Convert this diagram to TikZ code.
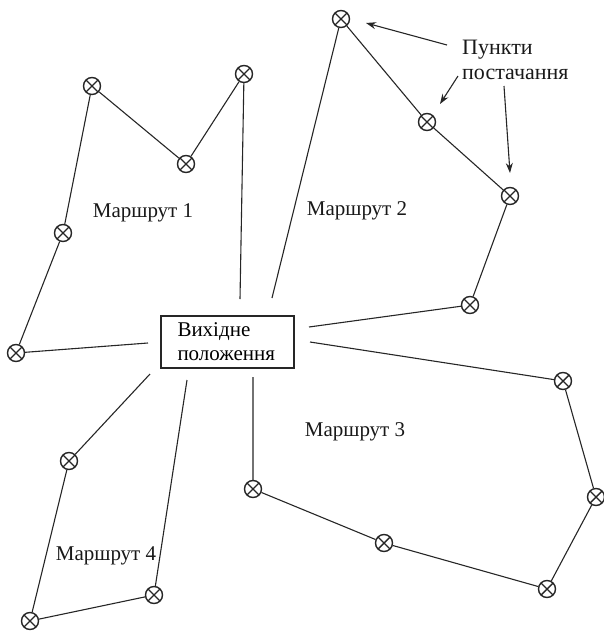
\documentclass[tikz,border=0pt]{standalone}
\usepackage{fontspec}
\setmainfont{Liberation Serif}
\usetikzlibrary{arrows.meta}
\begin{document}
\begin{tikzpicture}[x=1pt,y=-1pt,
  pt/.style={circle,draw=black!85,line width=1.4pt,minimum size=17pt,inner sep=0pt,
    path picture={\draw[line width=1.4pt,black!85] (path picture bounding box.south west) -- (path picture bounding box.north east)
      (path picture bounding box.north west) -- (path picture bounding box.south east);}},
  route/.style={draw=black!85,line width=1.1pt},
  lbl/.style={font=\fontsize{21}{24}\selectfont,text=black!90,inner sep=0pt},
  arr/.style={draw=black!85,line width=1.1pt,-{Stealth[length=10pt,width=7pt]}}]
\useasboundingbox (0,0) rectangle (603,635);
% central box
\node[draw=black!85,line width=1.1pt,minimum width=133pt,minimum height=52pt,
  text width=100pt,align=left,font=\fontsize{21}{24}\selectfont,inner sep=0pt] (box) at (227.5,342) {Вихідне\\положення};
% route 1
\node[pt] (p1a) at (16,353) {};
\node[pt] (p1b) at (63,233) {};
\node[pt] (p1c) at (92,86) {};
\node[pt] (p1d) at (186,164) {};
\node[pt] (p1e) at (244,74) {};
\coordinate (e1a) at (148,343);
\coordinate (e1b) at (240,299);
\draw[route] (e1a) -- (p1a) -- (p1b) -- (p1c) -- (p1d) -- (p1e) -- (e1b);
% route 2
\node[pt] (p2a) at (341,19) {};
\node[pt] (p2b) at (427,122) {};
\node[pt] (p2c) at (510,196) {};
\node[pt] (p2d) at (470,305) {};
\coordinate (e2a) at (272,298);
\coordinate (e2b) at (309,327);
\draw[route] (e2a) -- (p2a) -- (p2b) -- (p2c) -- (p2d) -- (e2b);
% route 3
\node[pt] (p3a) at (563,381) {};
\node[pt] (p3b) at (596,497) {};
\node[pt] (p3c) at (547,589) {};
\node[pt] (p3d) at (384,543) {};
\node[pt] (p3e) at (253,489) {};
\coordinate (e3a) at (310,342);
\coordinate (e3b) at (253,377);
\draw[route] (e3a) -- (p3a) -- (p3b) -- (p3c) -- (p3d) -- (p3e) -- (e3b);
% route 4
\node[pt] (p4a) at (69,461) {};
\node[pt] (p4b) at (30,621) {};
\node[pt] (p4c) at (154,595) {};
\coordinate (e4a) at (150,374);
\coordinate (e4b) at (187,380);
\draw[route] (e4a) -- (p4a) -- (p4b) -- (p4c) -- (e4b);
% labels
\node[lbl] (l1) at (143,213) {Маршрут 1};
\node[lbl] (l2) at (357,211) {Маршрут 2};
\node[lbl] (l3) at (355,432) {Маршрут 3};
\node[lbl] (l4) at (106,556) {Маршрут 4};
\node[lbl,font=\fontsize{22}{25}\selectfont,align=left,anchor=west] (pp) at (462,60) {Пункти\\постачання};
% arrows
\coordinate (a1s) at (447,45);
\coordinate (a1e) at (366,23);
\coordinate (a2s) at (458,76);
\coordinate (a2e) at (440,104);
\coordinate (a3s) at (504,86);
\coordinate (a3e) at (510,173);
\draw[arr] (a1s) -- (a1e);
\draw[arr] (a2s) -- (a2e);
\draw[arr] (a3s) -- (a3e);
\end{tikzpicture}
\end{document}
